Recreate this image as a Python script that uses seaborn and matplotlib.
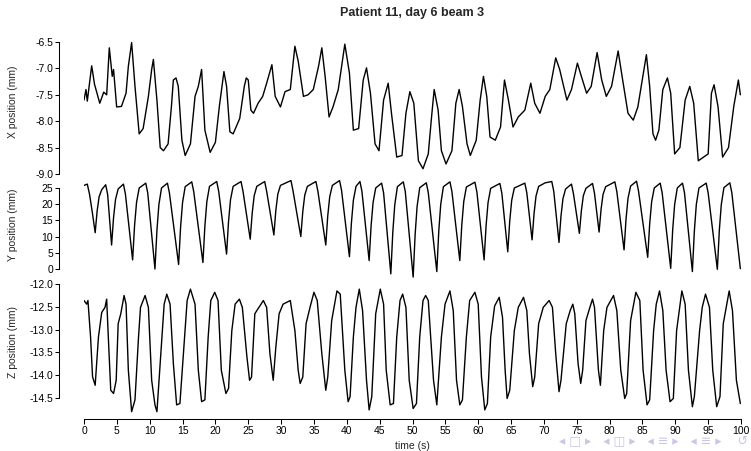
import numpy as np
import pandas as pd
import matplotlib
matplotlib.use('Agg')
import matplotlib.pyplot as plt
import seaborn as sns

# X position trace (time s, mm) - at peaks / troughs / shoulders
x_time = [0.0, 0.3, 0.5, 1.17, 1.6, 2.4, 3.0, 3.45, 3.85, 4.3, 4.5, 4.97, 5.7, 6.4, 6.75,
          7.25, 7.76, 8.4, 9.0, 9.8, 10.3, 10.56, 11.1, 11.6, 12.1, 12.8, 13.3, 13.6, 14.0,
          14.35, 14.9, 15.4, 16.2, 16.9, 17.4, 17.9, 18.4, 19.2, 20.0, 20.6, 21.3, 21.7, 22.2,
          22.7, 23.7, 24.4, 24.7, 25.0, 25.4, 25.8, 26.5, 27.2, 27.8, 28.6, 29.1, 29.9, 30.6,
          31.4, 32.1, 32.6, 33.4, 34.1, 34.9, 35.7, 36.2, 36.7, 37.3, 37.9, 38.7, 39.7, 40.4,
          41.0, 41.8, 42.5, 43.0, 43.6, 44.3, 44.9, 45.6, 46.3, 46.8, 47.6, 48.4, 49.0, 49.6,
          50.2, 50.9, 51.6, 52.4, 52.9, 53.3, 53.9, 54.4, 55.1, 56.0, 56.6, 57.1, 57.6, 58.3,
          58.8, 59.7, 60.3, 60.8, 61.3, 61.8, 62.6, 63.4, 64.0, 64.6, 65.3, 66.1, 67.1, 68.0,
          68.6, 69.4, 70.2, 70.9, 71.8, 72.4, 73.5, 74.2, 75.1, 75.7, 76.5, 77.2, 78.1, 78.8,
          79.5, 80.3, 81.3, 81.9, 82.8, 83.6, 84.3, 85.6, 86.1, 86.6, 87.0, 87.5, 88.1, 88.8,
          89.3, 89.9, 90.7, 91.5, 92.2, 92.8, 93.5, 94.3, 95.0, 95.5, 95.9, 96.5, 97.2, 98.1,
          98.9, 99.6, 99.9]
x_pos = [-7.60, -7.40, -7.62, -6.95, -7.30, -7.66, -7.45, -7.50, -6.61, -7.15, -7.02, -7.73,
         -7.72, -7.47, -6.96, -6.51, -7.34, -8.24, -8.14, -7.53, -7.02, -6.83, -7.60, -8.50,
         -8.56, -8.43, -7.73, -7.22, -7.18, -7.34, -8.36, -8.65, -8.43, -7.53, -7.34, -7.02,
         -8.17, -8.59, -8.40, -7.72, -7.06, -7.34, -8.20, -8.24, -7.95, -7.34, -7.18, -7.22,
         -7.79, -7.85, -7.66, -7.53, -7.28, -6.93, -7.53, -7.73, -7.44, -7.40, -6.58, -6.86,
         -7.53, -7.50, -7.40, -6.96, -6.61, -7.15, -7.92, -7.73, -7.40, -6.54, -7.09, -8.17,
         -8.14, -7.22, -6.99, -7.47, -8.43, -8.56, -7.60, -7.28, -7.85, -8.68, -8.65, -7.85,
         -7.44, -7.66, -8.75, -8.90, -8.62, -7.92, -7.40, -7.79, -8.56, -8.81, -8.56, -7.66,
         -7.40, -7.72, -8.43, -8.65, -8.36, -7.60, -7.15, -7.53, -8.30, -8.36, -8.11, -7.22,
         -7.60, -8.11, -7.92, -7.79, -7.28, -7.66, -7.85, -7.53, -7.40, -6.80, -7.02, -7.60,
         -7.40, -6.90, -7.15, -7.47, -7.34, -6.70, -7.22, -7.53, -7.34, -6.67, -7.15, -7.85,
         -7.98, -7.73, -6.74, -7.34, -8.24, -8.36, -8.17, -7.40, -7.18, -7.47, -8.62, -8.50,
         -7.60, -7.34, -7.66, -8.75, -8.68, -8.62, -7.47, -7.31, -7.72, -8.68, -8.50, -7.72,
         -7.22, -7.50]

# Y position trace (time s, mm)
y_time = [0.0, 0.5, 0.85, 1.3, 1.7, 2.0, 2.3, 2.7, 3.3, 3.6, 3.9, 4.2, 4.5, 4.8, 5.2, 6.0,
          6.3, 6.85, 7.4, 7.7, 8.0, 8.4, 9.4, 9.7, 10.25, 10.8, 11.1, 11.4, 11.8, 12.7, 13.0,
          13.7, 14.4, 14.7, 15.0, 15.4, 16.4, 16.7, 17.4, 18.1, 18.4, 18.7, 19.1, 20.2, 20.5,
          21.1, 21.7, 22.0, 22.3, 22.7, 23.9, 24.2, 24.75, 25.3, 25.6, 25.9, 26.3, 27.5, 27.8,
          28.35, 28.9, 29.2, 29.5, 29.9, 31.5, 31.8, 32.4, 33.0, 33.3, 33.6, 34.0, 35.3, 35.6,
          36.2, 36.8, 37.1, 37.4, 37.8, 38.9, 39.2, 39.8, 40.4, 40.7, 41.0, 41.4, 42.0, 42.3,
          42.85, 43.4, 43.7, 44.0, 44.4, 45.3, 45.6, 46.15, 46.7, 47.0, 47.3, 47.7, 48.6, 48.9,
          49.5, 50.1, 50.4, 50.7, 51.1, 52.1, 52.4, 53.05, 53.7, 54.0, 54.3, 54.7, 55.7, 56.0,
          56.6, 57.2, 57.5, 57.8, 58.2, 59.5, 59.8, 60.35, 60.9, 61.2, 61.5, 61.9, 63.3, 63.6,
          64.05, 64.5, 64.8, 65.1, 65.5, 67.1, 67.4, 67.8, 68.2, 68.5, 68.8, 69.2, 70.2, 71.2,
          71.5, 71.9, 72.3, 72.6, 72.9, 73.3, 74.2, 74.5, 74.95, 75.4, 75.7, 76.0, 76.4, 77.4,
          77.7, 78.05, 78.4, 78.7, 79.0, 79.4, 80.8, 81.1, 81.65, 82.2, 82.5, 82.8, 83.2, 84.1,
          84.4, 85.1, 85.8, 86.1, 86.4, 86.8, 87.7, 88.0, 88.65, 89.3, 89.6, 89.9, 90.3, 91.1,
          91.4, 92.0, 92.6, 92.9, 93.2, 93.6, 94.7, 95.0, 95.7, 96.4, 96.7, 97.0, 97.4, 98.3,
          98.6, 99.25, 99.9]
y_pos = [25.8, 26.2, 23.0, 17.0, 11.2, 17.9, 22.3, 24.5, 26.0, 23.0, 15.2, 7.4, 15.9, 21.5,
         24.7, 26.2, 23.2, 13.0, 2.8, 13.5, 20.6, 25.0, 26.5, 23.5, 11.8, 0.0, 11.9, 19.9,
         25.0, 26.5, 23.5, 12.5, 1.4, 12.9, 20.5, 25.4, 26.9, 23.9, 13.0, 2.0, 13.3, 20.8,
         25.5, 27.0, 24.0, 14.3, 4.6, 14.7, 21.4, 25.5, 27.0, 24.0, 16.6, 9.2, 17.2, 22.6,
         25.5, 27.0, 24.0, 17.3, 10.5, 18.1, 23.1, 25.8, 27.3, 24.3, 17.2, 10.0, 17.7, 22.8,
         25.5, 27.0, 24.0, 15.7, 7.4, 16.4, 22.3, 25.8, 27.3, 24.3, 14.0, 3.8, 14.2, 21.2,
         25.5, 27.0, 24.0, 13.3, 2.6, 13.4, 20.5, 25.0, 26.5, 23.5, 11.0, -1.5, 11.3, 19.8,
         25.4, 26.9, 23.9, 10.7, -2.5, 10.6, 19.3, 25.1, 26.6, 23.6, 11.4, -0.8, 11.7, 20.0,
         25.4, 26.9, 23.9, 13.2, 2.6, 13.5, 20.8, 25.3, 26.8, 23.8, 13.3, 2.8, 13.4, 20.5,
         24.9, 26.4, 23.4, 14.4, 5.3, 14.8, 21.2, 25.0, 26.5, 23.5, 16.3, 9.0, 17.1, 22.5,
         25.5, 26.6, 27.0, 24.0, 16.1, 8.2, 16.3, 21.7, 24.7, 26.2, 23.2, 17.1, 11.0, 17.9,
         22.6, 24.9, 26.4, 23.4, 17.4, 11.4, 18.4, 23.0, 25.4, 26.9, 23.9, 14.9, 5.9, 15.4,
         21.8, 25.6, 27.1, 24.1, 13.9, 3.6, 13.9, 20.8, 25.0, 26.5, 23.5, 11.9, 0.2, 12.0,
         19.9, 25.0, 26.5, 23.5, 11.4, -0.8, 11.7, 19.9, 25.0, 26.5, 23.5, 11.7, -0.1, 11.9,
         19.9, 25.1, 26.6, 23.6, 11.8, 0.1]

# Z position trace (time s, mm)
z_time = [0.0, 0.4, 0.6, 1.0, 1.3, 1.7, 2.2, 2.7, 3.2, 3.45, 3.7, 4.07, 4.5, 4.9, 5.2, 5.6,
          6.1, 6.4, 6.75, 7.25, 7.76, 8.3, 8.6, 9.3, 9.8, 10.3, 10.8, 11.1, 11.7, 12.2, 12.6,
          13.1, 13.6, 14.1, 14.6, 15.3, 15.7, 16.2, 16.9, 17.4, 17.9, 18.4, 18.9, 19.3, 19.9,
          20.4, 20.9, 21.6, 22.0, 22.5, 23.0, 23.65, 24.1, 24.8, 25.2, 25.5, 26.0, 27.3, 27.8,
          28.3, 28.8, 29.2, 29.7, 30.3, 31.4, 32.1, 32.6, 32.9, 33.3, 33.8, 34.4, 35.0, 35.5,
          36.2, 36.8, 37.1, 37.7, 38.5, 39.0, 39.7, 40.2, 40.5, 41.0, 41.4, 41.9, 42.4, 43.0,
          43.4, 43.8, 44.4, 45.1, 45.6, 46.0, 46.6, 47.1, 47.6, 48.1, 48.5, 49.0, 49.5, 50.1,
          50.6, 51.1, 51.6, 52.0, 52.4, 53.2, 53.7, 54.4, 54.95, 55.7, 56.2, 56.7, 57.2, 57.6,
          58.2, 58.7, 59.5, 60.0, 60.5, 61.0, 61.4, 61.9, 62.5, 63.2, 63.7, 64.1, 64.4, 64.8,
          65.5, 66.1, 66.9, 67.4, 67.8, 68.3, 68.6, 69.2, 69.9, 70.8, 71.3, 71.8, 72.3, 72.6,
          73.4, 74.0, 74.4, 74.7, 75.2, 75.6, 75.9, 76.4, 77.0, 77.4, 77.7, 78.3, 78.6, 79.1,
          79.6, 80.6, 81.1, 81.7, 82.3, 82.6, 83.2, 84.0, 84.6, 85.1, 85.7, 86.1, 86.7, 87.1,
          87.6, 88.1, 88.6, 89.2, 89.7, 90.2, 91.0, 91.5, 92.0, 92.6, 92.9, 93.7, 94.1, 94.6,
          95.2, 95.7, 96.3, 96.8, 97.3, 98.2, 98.7, 99.3, 99.9]
z_pos = [-12.36, -12.44, -12.36, -13.16, -14.03, -14.22, -13.16, -12.62, -12.51, -12.33,
         -13.16, -14.33, -14.40, -14.11, -12.87, -12.65, -12.25, -12.44, -13.89, -14.80,
         -14.54, -13.16, -12.51, -12.25, -12.51, -14.11, -14.65, -14.80, -13.53, -12.44,
         -12.22, -12.44, -13.74, -14.65, -14.62, -13.16, -12.36, -12.11, -12.44, -13.89,
         -14.58, -14.54, -13.16, -12.36, -12.18, -12.36, -13.89, -14.40, -14.29, -13.02,
         -12.44, -12.33, -12.51, -13.60, -14.11, -14.04, -12.65, -12.36, -12.51, -13.53,
         -14.11, -13.38, -12.65, -12.44, -12.36, -13.02, -13.89, -14.18, -14.04, -12.87,
         -12.51, -12.18, -12.36, -13.53, -14.33, -14.04, -12.80, -12.15, -12.22, -13.89,
         -14.58, -14.47, -13.16, -12.51, -12.11, -12.58, -14.11, -14.76, -14.47, -12.65,
         -12.11, -12.44, -13.89, -14.65, -14.62, -13.16, -12.36, -12.22, -12.51, -14.11,
         -14.73, -14.62, -13.16, -12.36, -12.25, -12.36, -14.11, -14.65, -13.16, -12.44,
         -12.15, -12.58, -14.11, -14.65, -14.54, -13.16, -12.36, -12.18, -12.44, -14.04,
         -14.76, -14.62, -13.16, -12.48, -12.29, -12.73, -13.89, -14.51, -14.33, -13.02,
         -12.51, -12.29, -12.58, -13.53, -14.25, -14.04, -12.87, -12.51, -12.36, -12.51,
         -13.53, -14.36, -14.11, -12.87, -12.58, -12.44, -12.65, -13.74, -14.18, -13.89,
         -12.80, -12.51, -12.33, -12.51, -13.89, -14.22, -13.02, -12.51, -12.25, -12.58,
         -13.89, -14.51, -14.40, -12.80, -12.18, -12.36, -13.89, -14.65, -14.54, -13.02,
         -12.44, -12.15, -12.58, -13.89, -14.58, -14.51, -13.02, -12.15, -12.44, -13.89,
         -14.69, -14.47, -13.02, -12.51, -12.22, -12.51, -13.89, -14.69, -14.47, -12.87,
         -12.15, -12.58, -14.11, -14.62]

x_ticks = [-6.5, -7.0, -7.5, -8.0, -8.5, -9.0]
y_ticks = [0, 5, 10, 15, 20, 25]
z_ticks = [-12.0, -12.5, -13.0, -13.5, -14.0, -14.5]
time_ticks = list(range(0, 101, 5))

sns.set_style('white')
plt.rcParams['font.family'] = ['Liberation Sans', 'DejaVu Sans']
plt.rcParams['axes.unicode_minus'] = False

W, H = 751, 451
fig = plt.figure(figsize=(W / 100, H / 100), dpi=100)


def add_panel(top, bottom):
    # pixel rows -> figure fraction
    return fig.add_axes([84 / W, 1 - bottom / H, 657 / W, (bottom - top) / H])


panels = [
    (add_panel(36, 180), x_time, x_pos, x_ticks, (-9.114, -6.386), 'X position (mm)', 102, '%.1f'),
    (add_panel(180, 279), y_time, y_pos, y_ticks, (-3.09, 27.47), 'Y position (mm)', 225, '%d'),
    (add_panel(280, 414), z_time, z_pos, z_ticks, (-14.85, -11.91), 'Z position (mm)', 342, '%.1f'),
]

for i, (ax, t, v, ticks, ylim, label, label_y, fmt) in enumerate(panels):
    df = pd.DataFrame({'t': t, 'v': v})
    sns.lineplot(data=df, x='t', y='v', ax=ax, color='black', linewidth=1.0,
                 estimator=None, sort=False)
    ax.set_xlim(0, 100)
    ax.set_ylim(*ylim)
    ax.set_yticks(ticks)
    ax.set_yticklabels([fmt % tk for tk in ticks])
    ax.set_xlabel('')
    ax.set_ylabel('')
    for s in ['top', 'right']:
        ax.spines[s].set_visible(False)
    ax.spines['left'].set_position(('outward', 18))
    ax.spines['left'].set_bounds(min(ticks), max(ticks))
    ax.spines['left'].set_linewidth(0.75)
    ax.spines['left'].set_color('black')
    ax.tick_params(axis='y', left=True, length=3.2, width=0.75, pad=1, labelsize=7.5,
                   colors='black')
    ax.patch.set_alpha(0)
    fig.text(13 / W, 1 - label_y / H, label, rotation=90, ha='center', va='center',
             fontsize=7.5)
    if i < 2:
        ax.spines['bottom'].set_visible(False)
        ax.set_xticks([])
    else:
        ax.set_xticks(time_ticks)
        ax.spines['bottom'].set_position(('outward', 3.6))
        ax.spines['bottom'].set_bounds(0, 100)
        ax.spines['bottom'].set_linewidth(0.75)
        ax.spines['bottom'].set_color('black')
        ax.tick_params(axis='x', bottom=True, length=3.4, width=0.75, pad=1.5,
                       labelsize=7.5, colors='black')

fig.text(412.5 / W, 1 - 13 / H, 'Patient 11, day 6 beam 3', ha='center', va='center',
         fontsize=9, fontweight='bold')
fig.text(412.5 / W, 1 - 446 / H, 'time (s)', ha='center', va='center', fontsize=7.5)

# faint slide navigation symbols in the bottom-right corner
fig.text(748 / W, 1 - 441 / H,
         '\u25c2 \u25a1 \u25b8   \u25c2 \u25eb \u25b8   \u25c2 \u2261 \u25b8   \u25c2 \u2261 \u25b8    \u21ba',
         ha='right', va='center', fontsize=9, color='#c8c8e6', family=['DejaVu Sans'])

plt.savefig('out.png', dpi=100)
plt.close()
